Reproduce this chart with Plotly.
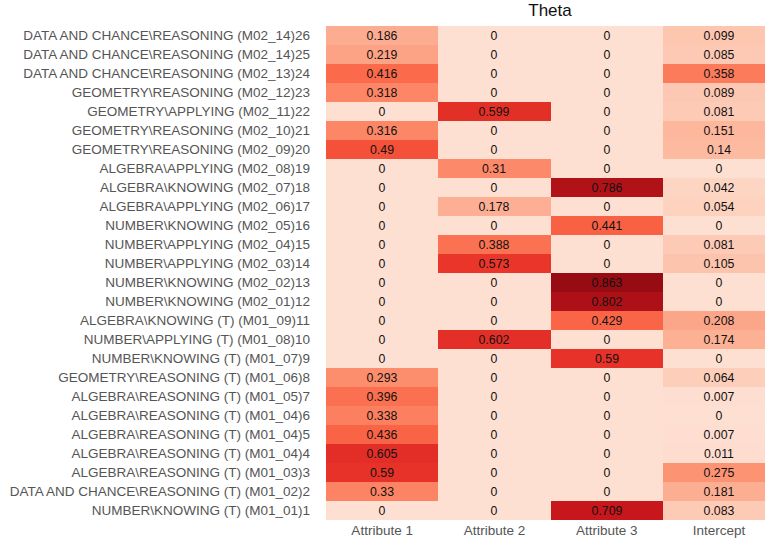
import plotly.graph_objects as go

# Item labels, listed from the bottom row (1) to the top row (26)
items = [
    r"NUMBER\KNOWING (T) (M01_01)1",
    r"DATA AND CHANCE\REASONING (T) (M01_02)2",
    r"ALGEBRA\REASONING (T) (M01_03)3",
    r"ALGEBRA\REASONING (T) (M01_04)4",
    r"ALGEBRA\REASONING (T) (M01_04)5",
    r"ALGEBRA\REASONING (T) (M01_04)6",
    r"ALGEBRA\REASONING (T) (M01_05)7",
    r"GEOMETRY\REASONING (T) (M01_06)8",
    r"NUMBER\KNOWING (T) (M01_07)9",
    r"NUMBER\APPLYING (T) (M01_08)10",
    r"ALGEBRA\KNOWING (T) (M01_09)11",
    r"NUMBER\KNOWING (M02_01)12",
    r"NUMBER\KNOWING (M02_02)13",
    r"NUMBER\APPLYING (M02_03)14",
    r"NUMBER\APPLYING (M02_04)15",
    r"NUMBER\KNOWING (M02_05)16",
    r"ALGEBRA\APPLYING (M02_06)17",
    r"ALGEBRA\KNOWING (M02_07)18",
    r"ALGEBRA\APPLYING (M02_08)19",
    r"GEOMETRY\REASONING (M02_09)20",
    r"GEOMETRY\REASONING (M02_10)21",
    r"GEOMETRY\APPLYING (M02_11)22",
    r"GEOMETRY\REASONING (M02_12)23",
    r"DATA AND CHANCE\REASONING (M02_13)24",
    r"DATA AND CHANCE\REASONING (M02_14)25",
    r"DATA AND CHANCE\REASONING (M02_14)26",
]

columns = ["Attribute 1", "Attribute 2", "Attribute 3", "Intercept"]

attribute_1 = [0, 0.33, 0.59, 0.605, 0.436, 0.338, 0.396, 0.293, 0, 0, 0, 0, 0,
               0, 0, 0, 0, 0, 0, 0.49, 0.316, 0, 0.318, 0.416, 0.219, 0.186]
attribute_2 = [0, 0, 0, 0, 0, 0, 0, 0, 0, 0.602, 0, 0, 0,
               0.573, 0.388, 0, 0.178, 0, 0.31, 0, 0, 0.599, 0, 0, 0, 0]
attribute_3 = [0.709, 0, 0, 0, 0, 0, 0, 0, 0.59, 0, 0.429, 0.802, 0.863,
               0, 0, 0.441, 0, 0.786, 0, 0, 0, 0, 0, 0, 0, 0]
intercept = [0.083, 0.181, 0.275, 0.011, 0.007, 0, 0.007, 0.064, 0, 0.174, 0.208, 0, 0,
             0.105, 0.081, 0, 0.054, 0.042, 0, 0.14, 0.151, 0.081, 0.089, 0.358, 0.085, 0.099]

z = [list(row) for row in zip(attribute_1, attribute_2, attribute_3, intercept)]

reds = [
    [0.0, "rgb(254,224,210)"],
    [1 / 7, "rgb(252,187,161)"],
    [2 / 7, "rgb(252,146,114)"],
    [3 / 7, "rgb(251,106,74)"],
    [4 / 7, "rgb(239,59,44)"],
    [5 / 7, "rgb(203,24,29)"],
    [6 / 7, "rgb(165,15,21)"],
    [1.0, "rgb(103,0,13)"],
]

fig = go.Figure(
    go.Heatmap(
        z=z,
        x=columns,
        y=items,
        colorscale=reds,
        zmin=0,
        zmax=0.97,
        showscale=False,
        texttemplate="%{z}",
        textfont=dict(family="Liberation Sans, Arial, sans-serif", size=12.3, color="#111111"),
        xgap=0,
        ygap=0,
    )
)

fig.update_layout(
    width=765,
    height=544,
    margin=dict(l=326, r=0, t=26, b=24),
    paper_bgcolor="white",
    plot_bgcolor="white",
    font=dict(family="Liberation Sans, Arial, sans-serif", size=13, color="#444444"),
    title=dict(
        text="Theta",
        font=dict(size=17, color="#111111"),
        xref="container",
        yref="container",
        x=550 / 765,
        xanchor="center",
        y=1 - 10 / 544,
        yanchor="middle",
    ),
)

fig.update_xaxes(
    type="category",
    range=[-0.5, 3.41],
    showgrid=False,
    zeroline=False,
    ticks="",
    tickfont=dict(size=13.5, color="#555555"),
)
fig.update_yaxes(
    type="category",
    showgrid=False,
    zeroline=False,
    ticks="",
    ticklabelstandoff=15,
    tickfont=dict(size=13.5, color="#555555"),
)

fig.write_html("out.html")
